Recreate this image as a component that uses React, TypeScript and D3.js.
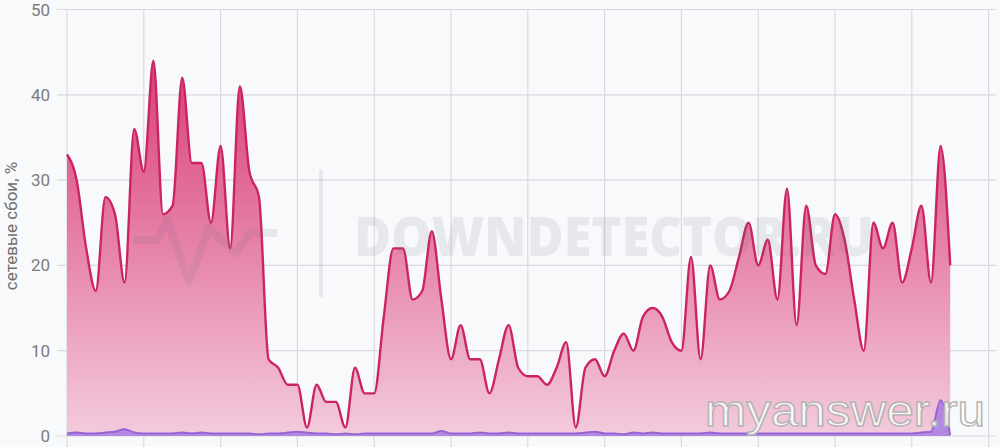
import React, { useEffect, useRef } from "react";
import * as d3 from "d3";

// 15-minute samples, network failures share (%)
const networkFailures = [
  33, 30, 22, 17, 28, 26, 18, 36, 31, 44,
  26, 27, 42, 32, 32, 25, 34, 22, 41, 31,
  28, 9, 8, 6, 6, 1, 6, 4, 4, 1,
  8, 5, 5, 14, 22, 22, 16, 17, 24, 16,
  9, 13, 9, 9, 5, 9, 13, 8, 7, 7,
  6, 8, 11, 1, 8, 9, 7, 10, 12, 10,
  14, 15, 14, 11, 10, 21, 9, 20, 16, 17,
  21, 25, 20, 23, 16, 29, 13, 27, 20, 19,
  26, 23, 16, 10, 25, 22, 25, 18, 22, 27,
  18, 34, 20,
];

const baseline = [
  0.3, 0.4, 0.3, 0.3, 0.4, 0.5, 0.8, 0.4, 0.3, 0.3,
  0.3, 0.3, 0.4, 0.3, 0.4, 0.3, 0.3, 0.3, 0.3, 0.3,
  0.2, 0.3, 0.3, 0.4, 0.5, 0.4, 0.3, 0.3, 0.2, 0.3,
  0.2, 0.3, 0.3, 0.3, 0.3, 0.3, 0.3, 0.3, 0.3, 0.6,
  0.3, 0.3, 0.3, 0.4, 0.3, 0.3, 0.4, 0.3, 0.3, 0.3,
  0.3, 0.3, 0.3, 0.3, 0.4, 0.5, 0.3, 0.3, 0.2, 0.4,
  0.3, 0.4, 0.3, 0.3, 0.3, 0.3, 0.3, 0.4, 0.3, 0.3,
  0.3, 0.3, 0.3, 0.3, 0.3, 0.3, 0.3, 0.3, 0.3, 0.3,
  0.3, 0.3, 0.3, 0.3, 0.3, 0.3, 0.3, 0.3, 0.3, 0.4,
  0.5, 4.2, 0.1,
];

const yTicks = [0, 10, 20, 30, 40, 50];
const xGridSteps = d3.range(0, 97, 8);
const yTitle = "сетевые сбои, %";

export default function App() {
  const ref = useRef<SVGSVGElement>(null);

  useEffect(() => {
    const width = 1000;
    const height = 447;
    const svg = d3.select(ref.current);
    svg.selectAll("*").remove();
    svg.attr("width", width).attr("height", height);

    const x = d3.scaleLinear().domain([0, 96]).range([67, 988.6]);
    const y = d3.scaleLinear().domain([0, 50]).range([436, 9.5]);

    svg.append("rect").attr("width", width).attr("height", height).attr("fill", "#f8f9fb");

    const defs = svg.append("defs");
    const grad = defs
      .append("linearGradient")
      .attr("id", "pinkFill")
      .attr("gradientUnits", "userSpaceOnUse")
      .attr("x1", 0).attr("x2", 0)
      .attr("y1", y(44)).attr("y2", y(0));
    grad.append("stop").attr("offset", "0%").attr("stop-color", "#d93d7a");
    grad.append("stop").attr("offset", "55%").attr("stop-color", "#e88aaf");
    grad.append("stop").attr("offset", "100%").attr("stop-color", "#f3cbdc");

    // grid
    svg.append("g")
      .selectAll("line")
      .data(yTicks)
      .join("line")
      .attr("x1", 57).attr("x2", 996)
      .attr("y1", (d) => y(d)).attr("y2", (d) => y(d))
      .attr("stroke", "#d9dadf").attr("stroke-width", 1.2);
    svg.append("g")
      .selectAll("line")
      .data(xGridSteps)
      .join("line")
      .attr("x1", (d) => x(d)).attr("x2", (d) => x(d))
      .attr("y1", y(50)).attr("y2", height)
      .attr("stroke", "#d9dadf").attr("stroke-width", 1.2);

    // y labels
    svg.append("g")
      .selectAll("text")
      .data(yTicks)
      .join("text")
      .attr("x", 50)
      .attr("y", (d) => y(d) + 6)
      .attr("text-anchor", "end")
      .attr("font-family", "Roboto, sans-serif")
      .attr("font-size", 17)
      .attr("fill", "#7b7b7b")
      .text((d) => d);

    svg.append("text")
      .attr("transform", `translate(17,226) rotate(-90)`)
      .attr("text-anchor", "middle")
      .attr("font-family", "Roboto, sans-serif")
      .attr("font-size", 17)
      .attr("fill", "#6f6f6f")
      .text(yTitle);

    // pink series
    const area = d3.area<number>()
      .x((d, i) => x(i))
      .y0(y(0))
      .y1((d) => y(d))
      .curve(d3.curveMonotoneX);
    const line = d3.line<number>()
      .x((d, i) => x(i))
      .y((d) => y(d))
      .curve(d3.curveMonotoneX);

    svg.append("path").datum(networkFailures).attr("d", area).attr("fill", "url(#pinkFill)");
    svg.append("path").datum(networkFailures).attr("d", line)
      .attr("fill", "none").attr("stroke", "#cb2462").attr("stroke-width", 2.4);

    // purple series
    svg.append("path").datum(baseline).attr("d", area).attr("fill", "#a77ee0").attr("opacity", 0.85);
    svg.append("path").datum(baseline).attr("d", line)
      .attr("fill", "none").attr("stroke", "#9366d6").attr("stroke-width", 2);

    // downdetector watermark
    const wm = svg.append("g").attr("opacity", 0.11);
    wm.append("path")
      .attr("d", "M133,240 L157,240 L167,220 L189,281 L209,228 L236,253 L250,233 L277,233")
      .attr("fill", "none").attr("stroke", "#5a6478").attr("stroke-width", 8)
      .attr("stroke-linejoin", "round");
    wm.append("line").attr("x1", 321).attr("x2", 321).attr("y1", 170).attr("y2", 297)
      .attr("stroke", "#5a6478").attr("stroke-width", 4);
    wm.append("text")
      .attr("x", 354).attr("y", 256)
      .attr("font-family", "'Open Sans', sans-serif")
      .attr("font-weight", 800)
      .attr("font-size", 54)
      .attr("textLength", 520)
      .attr("lengthAdjust", "spacingAndGlyphs")
      .attr("fill", "#5a6478")
      .text("DOWNDETECTOR.RU");

    // myanswer watermark
    svg.append("text")
      .attr("x", 985).attr("y", 426)
      .attr("text-anchor", "end")
      .attr("font-family", "'Liberation Sans', sans-serif")
      .attr("font-size", 44)
      .attr("textLength", 280)
      .attr("lengthAdjust", "spacingAndGlyphs")
      .attr("fill", "#ffffff").attr("fill-opacity", 0.85)
      .attr("stroke", "#b5b5b5").attr("stroke-width", 1.4)
      .text("myanswer.ru");
  }, []);

  return (
    <div style={{ position: "absolute", left: 0, top: 0 }}>
      <svg ref={ref}></svg>
    </div>
  );
}
